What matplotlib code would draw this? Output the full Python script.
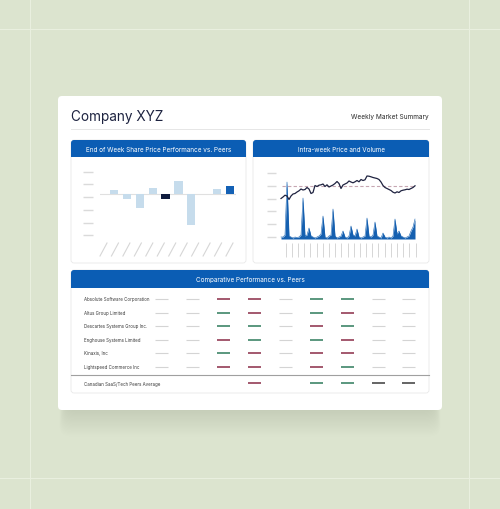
import numpy as np
import matplotlib.pyplot as plt
from matplotlib.patches import FancyBboxPatch, Rectangle

plt.rcParams['font.family'] = ['Inter', 'DejaVu Sans']

# End of week share price change vs peers (%), last bar = Company XYZ
peer_change = [0.58, -0.83, -2.2, 0.9, -0.74, 2.1, -4.83, 0.0, 0.79, 1.21]
avg_idx = 4
company_idx = 9

# Intra-week price ($) and volume (k shares)
price = [30.05, 30.2, 30.38, 30.3, 29.95, 30.3, 30.5, 30.55, 30.7, 30.82,
         31.0, 30.9, 30.95, 31.15, 31.0, 30.55, 30.65, 31.35, 31.25, 31.38,
         31.42, 31.5, 31.25, 31.42, 31.2, 31.3, 31.4, 31.55, 31.75, 31.55,
         31.05, 31.4, 31.5, 31.6, 31.8, 31.7, 31.62, 31.72, 31.85, 31.72,
         31.95, 31.85, 31.92, 32.3, 32.28, 32.22, 32.15, 32.1, 32.05, 31.95,
         31.7, 31.35, 31.15, 31.05, 30.95, 30.85, 30.68, 30.6, 30.72, 30.65,
         30.82, 30.88, 30.92, 30.98, 30.95, 31.05, 31.15, 31.32]
volume = [2, 2, 4, 57, 3, 2, 1, 2, 1.5, 2,
          4, 41, 3, 4, 11, 3, 2, 1, 2, 3,
          5, 23, 2, 1, 3, 4, 30, 3, 1, 2,
          3, 8, 2, 1, 3, 13, 4, 3, 10, 2,
          1, 2, 3, 21, 3, 2, 4, 17, 3, 2,
          1, 6, 2, 1, 2, 1, 3, 20, 5, 8,
          3, 2, 1, 2, 3, 8, 12, 20]
ref_price = 31.33

# Comparative performance table: n = neutral, r = under, g = over, k = average, - = none
peers = ['Absolute Software Corporation', 'Altus Group Limited',
         'Descartes Systems Group Inc.', 'Enghouse Systems Limited',
         'Kinaxis, Inc', 'Lightspeed Commerce Inc']
signals = ['nnrrnggnn', 'nngrngrnn', 'nnggnrgnn',
           'nnrgngrnn', 'nngrnrrnn', 'nnrrnrgnn']
avg_label = 'Canadian SaaS/Tech Peers Average'
avg_signal = '---r-ggkk'

BLUE = '#0b5db4'
W, H = 500, 510

fig = plt.figure(figsize=(5, 5.1), dpi=100, facecolor='#dce4cf')
bg = fig.add_axes([0, 0, 1, 1])
bg.set_xlim(0, W)
bg.set_ylim(H, 0)
bg.axis('off')


def px_axes(x0, y0, x1, y1):
    return fig.add_axes([x0 / W, 1 - y1 / H, (x1 - x0) / W, (y1 - y0) / H])


def rbox(x, y, w, h, r, **kw):
    p = FancyBboxPatch((x, y), w, h, boxstyle=f'round,pad=0,rounding_size={r}', **kw)
    bg.add_patch(p)
    return p


# background guide lines
for x in (30, 469):
    bg.axvline(x, color='#e9efdf', lw=0.8)
for y in (30, 479):
    bg.axhline(y, color='#e9efdf', lw=0.8)

# card shadow + card
for s in range(22):
    rbox(66 - s * 0.3, 140 + s * 0.3, 368 + s * 0.6, 272 + s * 0.9, 10,
         fc='#8fa27e', ec='none', alpha=0.011)
rbox(58, 97, 384, 314, 4, fc='white', ec='none')

bg.text(71, 117, 'Company XYZ', fontsize=9.8, color='#1d2340', va='center')
bg.text(429, 117, 'Weekly Market Summary', fontsize=4.7, color='#2a2a2a',
        va='center', ha='right')
bg.plot([71, 429], [130, 130], color='#e6e6e6', lw=0.7)


def panel(x0, y0, x1, y1, hh, title):
    rbox(x0, y0, x1 - x0, y1 - y0, 3, fc='white', ec='#e9e9e9', lw=0.6)
    rbox(x0, y0, x1 - x0, hh, 3, fc=BLUE, ec='none')
    bg.add_patch(Rectangle((x0, y0 + hh / 2), x1 - x0, hh / 2, fc=BLUE, ec='none'))
    bg.text((x0 + x1) / 2, y0 + hh / 2 + 0.3, title, fontsize=4.6, color='white',
            ha='center', va='center')


panel(71, 141, 246, 264, 17, 'End of Week Share Price Performance vs. Peers')
panel(253, 141, 429, 264, 17, 'Intra-week Price and Volume')
panel(71, 271, 429, 394, 18, 'Comparative Performance vs. Peers')

# left chart: bars
ax = px_axes(100, 165, 236, 240)
colors = ['#c6dcec'] * len(peer_change)
colors[avg_idx] = '#0e1b3d'
colors[company_idx] = '#1461b5'
ax.bar(range(len(peer_change)), peer_change, width=0.65, color=colors, zorder=2)
ax.axhline(0, color='#e0e0e0', lw=0.8, zorder=1)
ax.set_xlim(-1.1, 9.48)
ax.set_ylim(-7.09, 4.72)
ax.patch.set_visible(False)
for sp in ax.spines.values():
    sp.set_visible(False)
ax.spines['left'].set_position(('outward', 5))
ax.set_xticks([])
ax.set_yticks([3.5, 1.5, -0.5, -2.5, -4.5, -6.5])
ax.tick_params(axis='y', length=7.2, width=1, color='#dadada', labelleft=False)
for x in np.linspace(100, 226, 12):
    bg.plot([x, x + 7], [257, 244], color='#d6d6d6', lw=0.8)

# right chart: price + volume
ax = px_axes(280, 170, 416, 240)
ax2 = ax.twinx()
t = np.arange(len(price))
ax2.fill_between(t, volume, color='#1560b0', lw=0)
ax2.plot(t, volume, color='#1560b0', lw=0.4)
ax2.set_ylim(0, 70)
ax2.set_yticks([])
for sp in ax2.spines.values():
    sp.set_visible(False)
ax.set_zorder(ax2.get_zorder() + 1)
ax.patch.set_visible(False)
ax.hlines(ref_price, 0.5, 67, color='#c6a6b2', lw=0.8, linestyles=(0, (3, 2)))
ax.plot(t, price, color='#1f2340', lw=0.9)
ax.set_xlim(-0.5, 67.5)
ax.set_ylim(26, 33)
for sp in ax.spines.values():
    sp.set_visible(False)
ax.spines['left'].set_position(('outward', 2.9))
ax.spines['bottom'].set_position(('outward', 2.9))
ax.set_yticks([32.6, 31.32, 30.04, 28.76, 27.48, 26.2])
ax.tick_params(axis='y', length=6.7, width=1, color='#dadada', labelleft=False)
ax.set_xticks(np.linspace(2.3, 67.3, 22))
ax.tick_params(axis='x', length=10, width=0.7, color='#d6d6d6', labelbottom=False)

# table
sig_style = {'n': ('#d4d4d4', 0.8), 'r': ('#8a2b47', 1.1),
             'g': ('#2d7a5b', 1.1), 'k': ('#3a3a3a', 1.1)}
col_x = [161.7 + 30.9 * j for j in range(len(avg_signal))]


def table_row(y, label, sig):
    bg.text(84, y, label, fontsize=3.2, color='#3a3a3a', va='center')
    for x, c in zip(col_x, sig):
        if c == '-':
            continue
        col, lw = sig_style[c]
        bg.plot([x - 6.5, x + 6.5], [y, y], color=col, lw=lw, solid_capstyle='butt')


for r, (name, sig) in enumerate(zip(peers, signals)):
    table_row(300 + 13.5 * r, name, sig)
bg.plot([71, 429], [376, 376], color='#a0a0a0', lw=0.8)
table_row(384.3, avg_label, avg_signal)

fig.savefig('out.png', dpi=100, facecolor=fig.get_facecolor())
